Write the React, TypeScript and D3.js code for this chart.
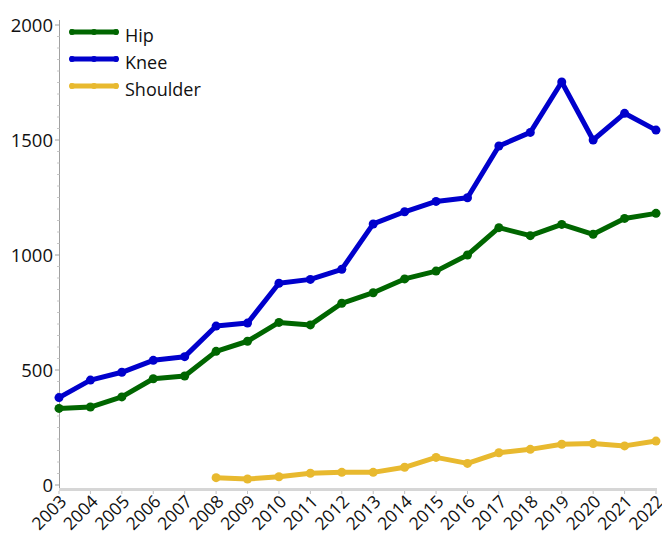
import React from "react";
import * as d3 from "d3";

const years = [
  2003, 2004, 2005, 2006, 2007, 2008, 2009, 2010, 2011, 2012, 2013, 2014, 2015,
  2016, 2017, 2018, 2019, 2020, 2021, 2022,
];

const hip = [
  333, 339, 383, 462, 474, 581, 625, 707, 696, 790, 836, 896, 930, 1000, 1119,
  1084, 1133, 1090, 1159, 1181,
];

const knee = [
  380, 456, 490, 542, 558, 691, 704, 877, 894, 938, 1135, 1188, 1233, 1249,
  1474, 1533, 1752, 1500, 1616, 1543,
];

// shoulder only starts in 2008
const shoulder = [
  null, null, null, null, null, 32, 26, 36, 51, 55, 55, 77, 120, 94, 140, 155,
  177, 180, 170, 191,
];

const yTicks = [0, 500, 1000, 1500, 2000];

const series = [
  { name: "Hip", values: hip, color: "#006600" },
  { name: "Knee", values: knee, color: "#0000cc" },
  { name: "Shoulder", values: shoulder, color: "#e8b92f" },
];

const width = 662;
const height = 535;
const font = "'Open Sans', 'Noto Sans', sans-serif";

export default function App() {
  const x = d3.scaleLinear().domain([2003, 2022]).range([59, 656]);
  const y = d3.scaleLinear().domain([0, 2000]).range([485, 25]);

  const line = d3
    .line<number | null>()
    .defined((d) => d != null)
    .x((_, i) => x(years[i]))
    .y((d) => y(d as number));

  const minor = d3.range(0, 2001, 50).filter((v) => v % 500 !== 0);

  return (
    <svg
      width={width}
      height={height}
      style={{ position: "absolute", left: 0, top: 0, fontFamily: font }}
    >
      {/* y axis */}
      <line x1={59.5} x2={59.5} y1={20} y2={490} stroke="#a0a0a0" strokeWidth={1} />
      {minor.map((v) => (
        <line key={v} x1={57} x2={59.5} y1={y(v)} y2={y(v)} stroke="#c8c8c8" />
      ))}
      {yTicks.map((v) => (
        <g key={v}>
          <line x1={55} x2={59.5} y1={y(v)} y2={y(v)} stroke="#a0a0a0" />
          <text
            x={53}
            y={y(v)}
            dy="0.36em"
            textAnchor="end"
            fontSize={18.5}
            fill="#111"
          >
            {v}
          </text>
        </g>
      ))}

      {/* x axis */}
      <line x1={59} x2={657} y1={489.5} y2={489.5} stroke="#d6d6d6" strokeWidth={3} />
      {years.map((yr) => (
        <g key={yr} transform={`translate(${x(yr)},491)`}>
          <line y1={0} y2={3} stroke="#c0c0c0" />
          <text
            transform="translate(0,3) rotate(-45)"
            textAnchor="end"
            dy="0.7em"
            fontSize={17.5}
            fill="#111"
          >
            {yr}
          </text>
        </g>
      ))}

      {/* series */}
      {series.map((s) => (
        <g key={s.name}>
          <path
            d={line(s.values) || ""}
            fill="none"
            stroke={s.color}
            strokeWidth={5}
            strokeLinejoin="round"
          />
          {s.values.map((v, i) =>
            v == null ? null : (
              <circle key={i} cx={x(years[i])} cy={y(v)} r={4.5} fill={s.color} />
            )
          )}
        </g>
      ))}

      {/* legend */}
      {series.map((s, i) => {
        const ly = 32 + i * 27;
        return (
          <g key={s.name}>
            <line x1={70} x2={118} y1={ly} y2={ly} stroke={s.color} strokeWidth={5} />
            {[72, 94, 116].map((cx) => (
              <circle key={cx} cx={cx} cy={ly} r={3} fill={s.color} />
            ))}
            <text x={125} y={ly} dy="0.55em" fontSize={18} fill="#111">
              {s.name}
            </text>
          </g>
        );
      })}
    </svg>
  );
}
